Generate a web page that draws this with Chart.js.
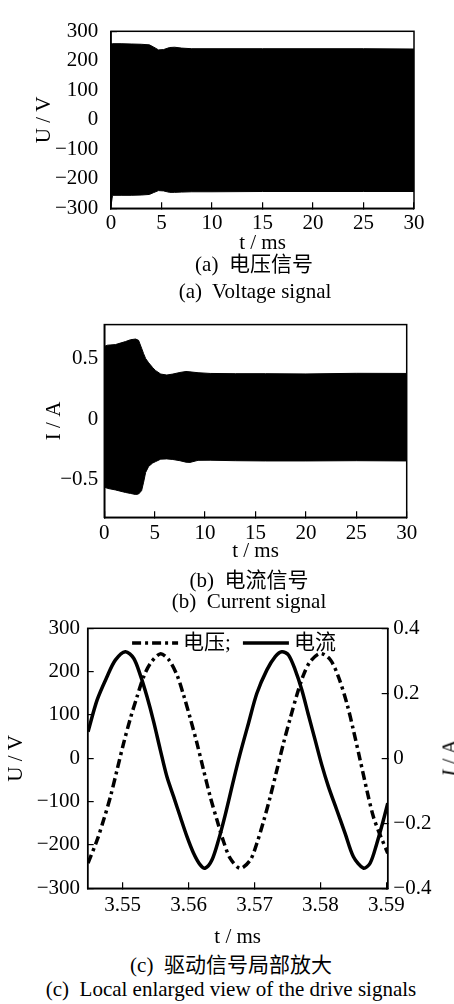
<!DOCTYPE html>
<html><head><meta charset="utf-8">
<script src="https://cdn.jsdelivr.net/npm/chart.js@4/dist/chart.umd.min.js"></script>
<style>
html,body{margin:0;padding:0;background:#fff;overflow:hidden;width:454px;height:1004px;}
#wrap{position:relative;width:454px;height:1004px;overflow:hidden;background:#fff;}
canvas{position:absolute;left:0;}
.cap{position:absolute;white-space:pre;font-size:21px;font-family:"Liberation Serif","Noto Sans CJK SC",serif;color:#000;transform:translate(-50%,-50%);line-height:1;}
</style></head>
<body><div id="wrap">
<canvas id="ca" width="454" height="256" style="top:0px"></canvas>
<canvas id="cb" width="454" height="270" style="top:300px"></canvas>
<canvas id="cc" width="470" height="350" style="top:600px"></canvas>
<div class="cap" style="left:254px;top:264px">(a)  电压信号</div>
<div class="cap" style="left:255px;top:291px">(a)  Voltage signal</div>
<div class="cap" style="left:249px;top:580px">(b)  电流信号</div>
<div class="cap" style="left:249px;top:601px">(b)  Current signal</div>
<div class="cap" style="left:231px;top:965px">(c)  驱动信号局部放大</div>
<div class="cap" style="left:231px;top:989px">(c)  Local enlarged view of the drive signals</div>
<div class="cap" style="left:450px;top:758px;transform:translate(-50%,-50%) rotate(-90deg)"><i>I</i> / A</div>
</div>
<script>
// ---------- (a) voltage envelope over 0–30 ms ----------
const tA      = [0, 0.15, 1, 2, 3, 3.8, 4.2, 4.7, 5.2, 5.8, 6.3, 7.0, 8.0, 10, 15, 20, 25, 30];
const uUpperA = [258, 258, 258, 257, 256, 254, 247, 237, 238, 245, 246, 243, 241, 241, 241, 241, 241, 240];
const uLowerA = [-292, -256, -256, -256, -255, -253, -247, -240, -241, -246, -246, -245, -244, -244, -243, -243, -243, -243];
const yTicksA = [-300, -200, -100, 0, 100, 200, 300];
const xTicksAB = [0, 5, 10, 15, 20, 25, 30];

// ---------- (b) current envelope over 0–30 ms ----------
const tB      = [0, 0.3, 1.1, 2.1, 2.6, 3.1, 3.4, 3.7, 3.9, 4.1, 4.4, 4.8, 5.1, 5.6, 6.2, 6.8, 7.5, 8.1, 8.5, 9.3, 10.5, 13, 16, 20, 25, 30];
const iUpperB = [0.60, 0.61, 0.615, 0.64, 0.655, 0.661, 0.65, 0.585, 0.54, 0.50, 0.465, 0.425, 0.40, 0.372, 0.364, 0.372, 0.385, 0.393, 0.39, 0.383, 0.377, 0.375, 0.375, 0.373, 0.378, 0.377];
const iLowerB = [-0.56, -0.571, -0.584, -0.605, -0.613, -0.622, -0.618, -0.59, -0.52, -0.44, -0.39, -0.362, -0.35, -0.33, -0.328, -0.333, -0.343, -0.355, -0.357, -0.34, -0.339, -0.343, -0.345, -0.345, -0.343, -0.345];
const yTicksB = [-0.5, 0, 0.5];

// ---------- (c) local enlarged view ----------
const tV = [3.54475, 3.54612, 3.54712, 3.54814, 3.54915, 3.55015, 3.55117, 3.55218, 3.55318, 3.5542, 3.55571, 3.55697, 3.55824, 3.55924, 3.56026, 3.56127, 3.56227, 3.56329, 3.5643, 3.5653, 3.56632, 3.56783, 3.56935, 3.57036, 3.57136, 3.57238, 3.57339, 3.5744, 3.57541, 3.57642, 3.57742, 3.57844, 3.57995, 3.58147, 3.58273, 3.584, 3.585, 3.58602, 3.58703, 3.58803, 3.58905, 3.59021];
const voltageC = [-242, -189, -142, -89, -27, 35, 92, 142, 188, 219, 241, 228, 192, 146, 92, 35, -27, -89, -142, -192, -231, -254, -235, -196, -146, -89, -27, 35, 92, 146, 192, 223, 242, 228, 188, 127, 65, -4, -73, -135, -177, -219];
const tI = [3.54475, 3.54612, 3.54763, 3.54889, 3.55041, 3.55167, 3.55268, 3.55369, 3.5547, 3.55571, 3.55672, 3.55773, 3.55874, 3.55976, 3.56076, 3.56177, 3.56253, 3.56354, 3.56455, 3.56556, 3.56682, 3.56783, 3.56909, 3.57036, 3.57188, 3.57314, 3.57415, 3.57515, 3.57617, 3.57718, 3.57818, 3.5792, 3.58021, 3.58121, 3.58248, 3.58374, 3.585, 3.58652, 3.58753, 3.58855, 3.58955, 3.59021];
const currentC = [0.082, 0.179, 0.251, 0.302, 0.328, 0.308, 0.256, 0.190, 0.113, 0.026, -0.057, -0.118, -0.18, -0.241, -0.292, -0.328, -0.338, -0.313, -0.251, -0.174, -0.067, 0.015, 0.108, 0.2, 0.272, 0.313, 0.328, 0.318, 0.272, 0.21, 0.133, 0.056, -0.021, -0.087, -0.159, -0.231, -0.303, -0.338, -0.323, -0.262, -0.19, -0.138];
const xTicksC = [3.55, 3.56, 3.57, 3.58, 3.59];
const yTicksCLeft = [-300, -200, -100, 0, 100, 200, 300];
const yTicksCRight = [-0.4, -0.2, 0, 0.2, 0.4];
const seriesNamesC = ['电压', '电流'];

// ---------- shared styling ----------
Chart.defaults.color = '#000';
Chart.defaults.font.family = "'Liberation Serif', serif";
Chart.defaults.font.size = 21;
Chart.defaults.animation = false;

const minus = s => String(s).replace('-', '\u2212');
const pts = (xs, ys) => xs.map((x, i) => ({x: x, y: ys[i]}));
const setTicks = arr => scale => { scale.ticks = arr.map(v => ({value: v})); };
const tickFont = {size: 21, lineHeight: 1.2};
const titleFont = {size: 21, lineHeight: 1.2};
const gridIn = {display: true, drawOnChartArea: false, drawTicks: true, tickLength: -6, color: '#000', lineWidth: 1.2};
const borderOpt = {display: true, color: '#000', width: 1.5};

const framePlugin = {
  id: 'frame',
  afterDatasetsDraw(chart) {
    const {ctx, chartArea: a} = chart;
    ctx.save();
    ctx.strokeStyle = '#000';
    ctx.lineWidth = 1.5;
    ctx.strokeRect(a.left, a.top, a.right - a.left, a.bottom - a.top);
    ctx.restore();
  }
};

const insideLegend = {
  id: 'insideLegend',
  afterDatasetsDraw(chart, args, opts) {
    if (!opts || !opts.display) return;
    const {ctx, chartArea} = chart;
    const ds = chart.data.datasets;
    ctx.save();
    ctx.font = opts.font;
    const texts = ds.map((d, i) => d.label + (i < ds.length - 1 ? opts.separator : ''));
    const widths = texts.map(t => ctx.measureText(t).width);
    const total = widths.reduce((s, w) => s + opts.sampleLength + opts.textGap + w, 0) + opts.itemGap * (ds.length - 1);
    let x = (chartArea.left + chartArea.right) / 2 - total / 2 + opts.offsetX;
    const y = chartArea.top + opts.offsetY;
    ds.forEach((d, i) => {
      ctx.beginPath();
      ctx.setLineDash(d.borderDash || []);
      ctx.lineWidth = d.borderWidth;
      ctx.strokeStyle = d.borderColor;
      ctx.lineCap = 'butt';
      ctx.moveTo(x, y);
      ctx.lineTo(x + opts.sampleLength, y);
      ctx.stroke();
      ctx.setLineDash([]);
      x += opts.sampleLength + opts.textGap;
      ctx.fillStyle = '#000';
      ctx.textBaseline = 'middle';
      ctx.textAlign = 'left';
      ctx.fillText(texts[i], x, y);
      x += widths[i] + opts.itemGap;
    });
    ctx.restore();
  }
};

function envelopeChart(id, t, upper, lower, yMin, yMax, yTicks, yFmt, geom) {
  return new Chart(document.getElementById(id), {
    type: 'line',
    data: {
      datasets: [
        {label: 'upper', data: pts(t, upper), fill: '+1', backgroundColor: '#000', borderColor: '#000', borderWidth: 1, pointRadius: 0, tension: 0},
        {label: 'lower', data: pts(t, lower), fill: false, backgroundColor: '#000', borderColor: '#000', borderWidth: 1, pointRadius: 0, tension: 0}
      ]
    },
    options: {
      responsive: false,
      animation: false,
      layout: {padding: {top: geom.top, right: geom.right, left: 0, bottom: 0}},
      plugins: {legend: {display: false}, tooltip: {enabled: false}},
      scales: {
        x: {
          type: 'linear', min: 0, max: 30,
          afterBuildTicks: setTicks(xTicksAB),
          afterFit: s => { s.height = geom.xh; },
          grid: gridIn, border: borderOpt,
          ticks: {font: tickFont, padding: geom.xpad, maxRotation: 0, autoSkip: false, callback: v => minus(v)},
          title: {display: true, text: 't / ms', font: titleFont, padding: {top: 0, bottom: geom.xtb}}
        },
        y: {
          type: 'linear', min: yMin, max: yMax,
          afterBuildTicks: setTicks(yTicks),
          afterFit: s => { s.width = geom.yw; },
          grid: gridIn, border: borderOpt,
          ticks: {font: tickFont, padding: geom.ypad, autoSkip: false, callback: yFmt},
          title: {display: true, text: geom.ytitle, font: titleFont, padding: {top: geom.ytp, bottom: 0}}
        }
      }
    },
    plugins: [framePlugin]
  });
}

envelopeChart('ca', tA, uUpperA, uLowerA, -300, 300, yTicksA, v => minus(v),
  {top: 12.3, right: 40, xh: 47.7, yw: 111, xpad: 8.1, xtb: 0.4, ypad: 18.7, ytp: 31.4, ytitle: 'U / V'});

envelopeChart('cb', tB, iUpperB, iLowerB, -0.81, 0.78, yTicksB, v => (v === 0 ? '0' : minus(v.toFixed(1))),
  {top: 12.5, right: 47.3, xh: 52.7, yw: 104.3, xpad: 9.6, xtb: 5.9, ypad: 12, ytp: 41.4, ytitle: 'I / A'});

new Chart(document.getElementById('cc'), {
  type: 'line',
  data: {
    datasets: [
      {label: seriesNamesC[0], data: pts(tV, voltageC), yAxisID: 'y', borderColor: '#000', borderWidth: 3.5, borderDash: [9, 4, 3, 4], pointRadius: 0, fill: false, tension: 0.3},
      {label: seriesNamesC[1], data: pts(tI, currentC), yAxisID: 'y1', borderColor: '#000', borderWidth: 3.5, pointRadius: 0, fill: false, tension: 0.3}
    ]
  },
  options: {
    responsive: false,
    animation: false,
    layout: {padding: {top: 28.3, right: 0, left: 0, bottom: 0}},
    plugins: {
      legend: {display: false}, tooltip: {enabled: false},
      insideLegend: {display: true, font: "21px 'Liberation Serif', 'Noto Sans CJK SC', sans-serif", separator: ';', sampleLength: 46, textGap: 5, itemGap: 12, offsetX: -3.7, offsetY: 14.7}
    },
    scales: {
      x: {
        type: 'linear', min: 3.5447, max: 3.5902,
        afterBuildTicks: setTicks(xTicksC),
        afterFit: s => { s.height = 61.7; },
        grid: gridIn, border: borderOpt,
        ticks: {font: tickFont, padding: 10.6, maxRotation: 0, autoSkip: false, callback: v => v.toFixed(2)},
        title: {display: true, text: 't / ms', font: titleFont, padding: {top: 0, bottom: 0.4}}
      },
      y: {
        type: 'linear', position: 'left', min: -300, max: 300,
        afterBuildTicks: setTicks(yTicksCLeft),
        afterFit: s => { s.width = 87.7; },
        grid: gridIn, border: borderOpt,
        ticks: {font: tickFont, padding: 13.7, autoSkip: false, callback: v => minus(v)},
        title: {display: true, text: 'U / V', font: titleFont, padding: {top: 3.9, bottom: 0}}
      },
      y1: {
        type: 'linear', position: 'right', min: -0.4, max: 0.4,
        afterBuildTicks: setTicks(yTicksCRight),
        afterFit: s => { s.width = 82.3; },
        grid: gridIn, border: borderOpt,
        ticks: {font: tickFont, padding: 11.6, autoSkip: false, callback: v => (v === 0 ? '0' : minus(v.toFixed(1)))}
      }
    }
  },
  plugins: [framePlugin, insideLegend]
});
</script>
</body></html>
